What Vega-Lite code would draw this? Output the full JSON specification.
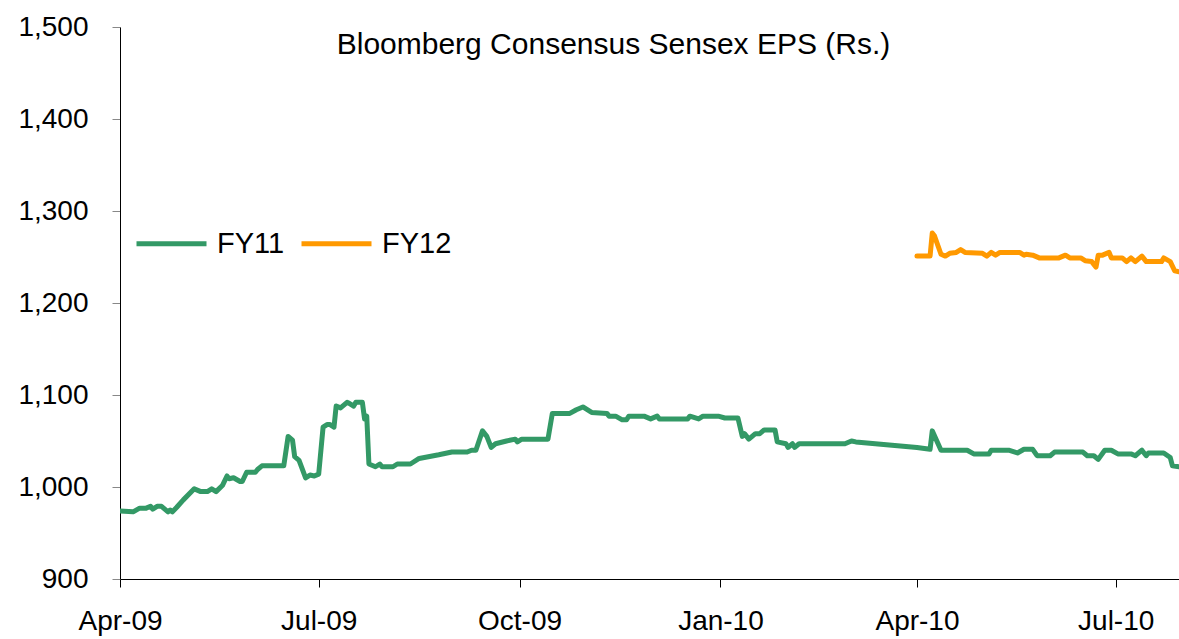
{
  "$schema": "https://vega.github.io/schema/vega-lite/v6.json",
  "width": 1059,
  "height": 552,
  "autosize": {"type": "none"},
  "padding": {"left": 120, "top": 27, "right": 0, "bottom": 60},
  "config": {
    "font": "Liberation Sans",
    "view": {"stroke": null}
  },
  "title": {
    "text": "Bloomberg Consensus Sensex EPS (Rs.)",
    "anchor": "middle",
    "dx": -36,
    "offset": -47,
    "fontSize": 30,
    "fontWeight": "normal",
    "font": "Liberation Sans",
    "color": "#000000"
  },
  "data": {
    "values": [
      {"date": "2009-04-01", "series": "FY11", "eps": 974},
      {"date": "2009-04-07", "series": "FY11", "eps": 973},
      {"date": "2009-04-10", "series": "FY11", "eps": 977},
      {"date": "2009-04-13", "series": "FY11", "eps": 977},
      {"date": "2009-04-15", "series": "FY11", "eps": 979},
      {"date": "2009-04-16", "series": "FY11", "eps": 976},
      {"date": "2009-04-18", "series": "FY11", "eps": 979},
      {"date": "2009-04-20", "series": "FY11", "eps": 979},
      {"date": "2009-04-23", "series": "FY11", "eps": 973},
      {"date": "2009-04-24", "series": "FY11", "eps": 975},
      {"date": "2009-04-25", "series": "FY11", "eps": 973},
      {"date": "2009-04-27", "series": "FY11", "eps": 978},
      {"date": "2009-04-30", "series": "FY11", "eps": 986},
      {"date": "2009-05-05", "series": "FY11", "eps": 998},
      {"date": "2009-05-08", "series": "FY11", "eps": 995},
      {"date": "2009-05-11", "series": "FY11", "eps": 995},
      {"date": "2009-05-13", "series": "FY11", "eps": 998},
      {"date": "2009-05-15", "series": "FY11", "eps": 995},
      {"date": "2009-05-18", "series": "FY11", "eps": 1002},
      {"date": "2009-05-20", "series": "FY11", "eps": 1012},
      {"date": "2009-05-21", "series": "FY11", "eps": 1009},
      {"date": "2009-05-23", "series": "FY11", "eps": 1010},
      {"date": "2009-05-26", "series": "FY11", "eps": 1006},
      {"date": "2009-05-27", "series": "FY11", "eps": 1006},
      {"date": "2009-05-29", "series": "FY11", "eps": 1016},
      {"date": "2009-06-02", "series": "FY11", "eps": 1016},
      {"date": "2009-06-03", "series": "FY11", "eps": 1019},
      {"date": "2009-06-05", "series": "FY11", "eps": 1023},
      {"date": "2009-06-15", "series": "FY11", "eps": 1023},
      {"date": "2009-06-17", "series": "FY11", "eps": 1055},
      {"date": "2009-06-19", "series": "FY11", "eps": 1051},
      {"date": "2009-06-20", "series": "FY11", "eps": 1033},
      {"date": "2009-06-22", "series": "FY11", "eps": 1029},
      {"date": "2009-06-25", "series": "FY11", "eps": 1010},
      {"date": "2009-06-27", "series": "FY11", "eps": 1013},
      {"date": "2009-06-29", "series": "FY11", "eps": 1012},
      {"date": "2009-07-01", "series": "FY11", "eps": 1014},
      {"date": "2009-07-03", "series": "FY11", "eps": 1065},
      {"date": "2009-07-05", "series": "FY11", "eps": 1068},
      {"date": "2009-07-06", "series": "FY11", "eps": 1068},
      {"date": "2009-07-08", "series": "FY11", "eps": 1065},
      {"date": "2009-07-09", "series": "FY11", "eps": 1088},
      {"date": "2009-07-11", "series": "FY11", "eps": 1086},
      {"date": "2009-07-14", "series": "FY11", "eps": 1092},
      {"date": "2009-07-15", "series": "FY11", "eps": 1091},
      {"date": "2009-07-17", "series": "FY11", "eps": 1088},
      {"date": "2009-07-18", "series": "FY11", "eps": 1092},
      {"date": "2009-07-21", "series": "FY11", "eps": 1092},
      {"date": "2009-07-22", "series": "FY11", "eps": 1074},
      {"date": "2009-07-23", "series": "FY11", "eps": 1077},
      {"date": "2009-07-24", "series": "FY11", "eps": 1025},
      {"date": "2009-07-27", "series": "FY11", "eps": 1022},
      {"date": "2009-07-29", "series": "FY11", "eps": 1025},
      {"date": "2009-07-30", "series": "FY11", "eps": 1022},
      {"date": "2009-08-04", "series": "FY11", "eps": 1022},
      {"date": "2009-08-06", "series": "FY11", "eps": 1025},
      {"date": "2009-08-12", "series": "FY11", "eps": 1025},
      {"date": "2009-08-16", "series": "FY11", "eps": 1031},
      {"date": "2009-08-25", "series": "FY11", "eps": 1035},
      {"date": "2009-08-31", "series": "FY11", "eps": 1038},
      {"date": "2009-09-07", "series": "FY11", "eps": 1038},
      {"date": "2009-09-09", "series": "FY11", "eps": 1040},
      {"date": "2009-09-11", "series": "FY11", "eps": 1040},
      {"date": "2009-09-14", "series": "FY11", "eps": 1061},
      {"date": "2009-09-16", "series": "FY11", "eps": 1055},
      {"date": "2009-09-18", "series": "FY11", "eps": 1043},
      {"date": "2009-09-20", "series": "FY11", "eps": 1047},
      {"date": "2009-09-25", "series": "FY11", "eps": 1050},
      {"date": "2009-09-29", "series": "FY11", "eps": 1052},
      {"date": "2009-09-30", "series": "FY11", "eps": 1049},
      {"date": "2009-10-02", "series": "FY11", "eps": 1052},
      {"date": "2009-10-14", "series": "FY11", "eps": 1052},
      {"date": "2009-10-16", "series": "FY11", "eps": 1080},
      {"date": "2009-10-24", "series": "FY11", "eps": 1080},
      {"date": "2009-10-27", "series": "FY11", "eps": 1084},
      {"date": "2009-10-30", "series": "FY11", "eps": 1087},
      {"date": "2009-11-03", "series": "FY11", "eps": 1081},
      {"date": "2009-11-10", "series": "FY11", "eps": 1080},
      {"date": "2009-11-11", "series": "FY11", "eps": 1077},
      {"date": "2009-11-14", "series": "FY11", "eps": 1077},
      {"date": "2009-11-17", "series": "FY11", "eps": 1073},
      {"date": "2009-11-19", "series": "FY11", "eps": 1073},
      {"date": "2009-11-20", "series": "FY11", "eps": 1077},
      {"date": "2009-11-27", "series": "FY11", "eps": 1077},
      {"date": "2009-11-30", "series": "FY11", "eps": 1074},
      {"date": "2009-12-03", "series": "FY11", "eps": 1077},
      {"date": "2009-12-04", "series": "FY11", "eps": 1074},
      {"date": "2009-12-17", "series": "FY11", "eps": 1074},
      {"date": "2009-12-18", "series": "FY11", "eps": 1077},
      {"date": "2009-12-22", "series": "FY11", "eps": 1074},
      {"date": "2009-12-24", "series": "FY11", "eps": 1077},
      {"date": "2009-12-31", "series": "FY11", "eps": 1077},
      {"date": "2010-01-03", "series": "FY11", "eps": 1075},
      {"date": "2010-01-09", "series": "FY11", "eps": 1075},
      {"date": "2010-01-11", "series": "FY11", "eps": 1055},
      {"date": "2010-01-12", "series": "FY11", "eps": 1058},
      {"date": "2010-01-14", "series": "FY11", "eps": 1052},
      {"date": "2010-01-17", "series": "FY11", "eps": 1058},
      {"date": "2010-01-19", "series": "FY11", "eps": 1058},
      {"date": "2010-01-21", "series": "FY11", "eps": 1062},
      {"date": "2010-01-26", "series": "FY11", "eps": 1062},
      {"date": "2010-01-27", "series": "FY11", "eps": 1049},
      {"date": "2010-01-31", "series": "FY11", "eps": 1047},
      {"date": "2010-02-01", "series": "FY11", "eps": 1043},
      {"date": "2010-02-03", "series": "FY11", "eps": 1047},
      {"date": "2010-02-04", "series": "FY11", "eps": 1043},
      {"date": "2010-02-06", "series": "FY11", "eps": 1047},
      {"date": "2010-02-27", "series": "FY11", "eps": 1047},
      {"date": "2010-03-02", "series": "FY11", "eps": 1050},
      {"date": "2010-03-04", "series": "FY11", "eps": 1049},
      {"date": "2010-04-01", "series": "FY11", "eps": 1043},
      {"date": "2010-04-07", "series": "FY11", "eps": 1041},
      {"date": "2010-04-08", "series": "FY11", "eps": 1061},
      {"date": "2010-04-12", "series": "FY11", "eps": 1040},
      {"date": "2010-04-24", "series": "FY11", "eps": 1040},
      {"date": "2010-04-27", "series": "FY11", "eps": 1036},
      {"date": "2010-05-04", "series": "FY11", "eps": 1036},
      {"date": "2010-05-05", "series": "FY11", "eps": 1040},
      {"date": "2010-05-13", "series": "FY11", "eps": 1040},
      {"date": "2010-05-17", "series": "FY11", "eps": 1037},
      {"date": "2010-05-20", "series": "FY11", "eps": 1041},
      {"date": "2010-05-24", "series": "FY11", "eps": 1041},
      {"date": "2010-05-26", "series": "FY11", "eps": 1034},
      {"date": "2010-06-01", "series": "FY11", "eps": 1034},
      {"date": "2010-06-03", "series": "FY11", "eps": 1038},
      {"date": "2010-06-16", "series": "FY11", "eps": 1038},
      {"date": "2010-06-18", "series": "FY11", "eps": 1034},
      {"date": "2010-06-21", "series": "FY11", "eps": 1034},
      {"date": "2010-06-23", "series": "FY11", "eps": 1030},
      {"date": "2010-06-26", "series": "FY11", "eps": 1040},
      {"date": "2010-06-29", "series": "FY11", "eps": 1040},
      {"date": "2010-07-02", "series": "FY11", "eps": 1036},
      {"date": "2010-07-08", "series": "FY11", "eps": 1036},
      {"date": "2010-07-10", "series": "FY11", "eps": 1034},
      {"date": "2010-07-13", "series": "FY11", "eps": 1040},
      {"date": "2010-07-15", "series": "FY11", "eps": 1034},
      {"date": "2010-07-16", "series": "FY11", "eps": 1037},
      {"date": "2010-07-23", "series": "FY11", "eps": 1037},
      {"date": "2010-07-26", "series": "FY11", "eps": 1032},
      {"date": "2010-07-27", "series": "FY11", "eps": 1023},
      {"date": "2010-07-30", "series": "FY11", "eps": 1022},
      {"date": "2010-04-01", "series": "FY12", "eps": 1251},
      {"date": "2010-04-07", "series": "FY12", "eps": 1251},
      {"date": "2010-04-08", "series": "FY12", "eps": 1276},
      {"date": "2010-04-09", "series": "FY12", "eps": 1273},
      {"date": "2010-04-12", "series": "FY12", "eps": 1253},
      {"date": "2010-04-14", "series": "FY12", "eps": 1251},
      {"date": "2010-04-16", "series": "FY12", "eps": 1254},
      {"date": "2010-04-19", "series": "FY12", "eps": 1255},
      {"date": "2010-04-21", "series": "FY12", "eps": 1258},
      {"date": "2010-04-23", "series": "FY12", "eps": 1255},
      {"date": "2010-05-01", "series": "FY12", "eps": 1254},
      {"date": "2010-05-03", "series": "FY12", "eps": 1251},
      {"date": "2010-05-05", "series": "FY12", "eps": 1255},
      {"date": "2010-05-07", "series": "FY12", "eps": 1252},
      {"date": "2010-05-09", "series": "FY12", "eps": 1255},
      {"date": "2010-05-18", "series": "FY12", "eps": 1255},
      {"date": "2010-05-20", "series": "FY12", "eps": 1252},
      {"date": "2010-05-21", "series": "FY12", "eps": 1253},
      {"date": "2010-05-24", "series": "FY12", "eps": 1252},
      {"date": "2010-05-27", "series": "FY12", "eps": 1249},
      {"date": "2010-06-05", "series": "FY12", "eps": 1249},
      {"date": "2010-06-08", "series": "FY12", "eps": 1252},
      {"date": "2010-06-10", "series": "FY12", "eps": 1249},
      {"date": "2010-06-15", "series": "FY12", "eps": 1249},
      {"date": "2010-06-17", "series": "FY12", "eps": 1246},
      {"date": "2010-06-20", "series": "FY12", "eps": 1245},
      {"date": "2010-06-22", "series": "FY12", "eps": 1239},
      {"date": "2010-06-23", "series": "FY12", "eps": 1252},
      {"date": "2010-06-25", "series": "FY12", "eps": 1252},
      {"date": "2010-06-28", "series": "FY12", "eps": 1255},
      {"date": "2010-06-29", "series": "FY12", "eps": 1249},
      {"date": "2010-07-04", "series": "FY12", "eps": 1249},
      {"date": "2010-07-06", "series": "FY12", "eps": 1245},
      {"date": "2010-07-08", "series": "FY12", "eps": 1249},
      {"date": "2010-07-10", "series": "FY12", "eps": 1245},
      {"date": "2010-07-13", "series": "FY12", "eps": 1251},
      {"date": "2010-07-15", "series": "FY12", "eps": 1245},
      {"date": "2010-07-22", "series": "FY12", "eps": 1245},
      {"date": "2010-07-23", "series": "FY12", "eps": 1249},
      {"date": "2010-07-26", "series": "FY12", "eps": 1245},
      {"date": "2010-07-28", "series": "FY12", "eps": 1235},
      {"date": "2010-07-30", "series": "FY12", "eps": 1234}
    ]
  },
  "mark": {"type": "line", "strokeWidth": 5, "strokeJoin": "round", "strokeCap": "round", "clip": true},
  "encoding": {
    "x": {
      "field": "date",
      "type": "temporal",
      "scale": {
        "type": "utc",
        "domain": [
          {"year": 2009, "month": 4, "date": 1, "utc": true},
          {"year": 2010, "month": 7, "date": 30, "utc": true}
        ],
        "nice": false
      },
      "axis": {
        "title": null,
        "format": "%b-%y",
        "values": [
          {"year": 2009, "month": 4, "date": 1, "utc": true},
          {"year": 2009, "month": 7, "date": 1, "utc": true},
          {"year": 2009, "month": 10, "date": 1, "utc": true},
          {"year": 2010, "month": 1, "date": 1, "utc": true},
          {"year": 2010, "month": 4, "date": 1, "utc": true},
          {"year": 2010, "month": 7, "date": 1, "utc": true}
        ],
        "grid": false,
        "domainColor": "#000000",
        "domainWidth": 1,
        "tickColor": "#000000",
        "tickSize": 8,
        "labelFontSize": 28,
        "labelColor": "#000000",
        "labelPadding": 20,
        "labelFlush": false,
        "labelOverlap": false
      }
    },
    "y": {
      "field": "eps",
      "type": "quantitative",
      "scale": {"domain": [900, 1500], "nice": false, "zero": false},
      "axis": {
        "title": null,
        "values": [900, 1000, 1100, 1200, 1300, 1400, 1500],
        "format": ",d",
        "grid": false,
        "domainColor": "#000000",
        "domainWidth": 1,
        "tickColor": "#888888",
        "tickSize": 8,
        "labelFontSize": 28,
        "labelColor": "#000000",
        "labelPadding": 24
      }
    },
    "color": {
      "field": "series",
      "type": "nominal",
      "scale": {"domain": ["FY11", "FY12"], "range": ["#339966", "#FF9900"]},
      "legend": {
        "title": null,
        "orient": "none",
        "direction": "horizontal",
        "legendX": 14,
        "legendY": 179,
        "symbolType": "stroke",
        "symbolSize": 4900,
        "symbolStrokeWidth": 5,
        "labelFontSize": 29,
        "labelColor": "#000000",
        "labelOffset": 8,
        "columnPadding": 6,
        "labelLimit": 200
      }
    }
  }
}
